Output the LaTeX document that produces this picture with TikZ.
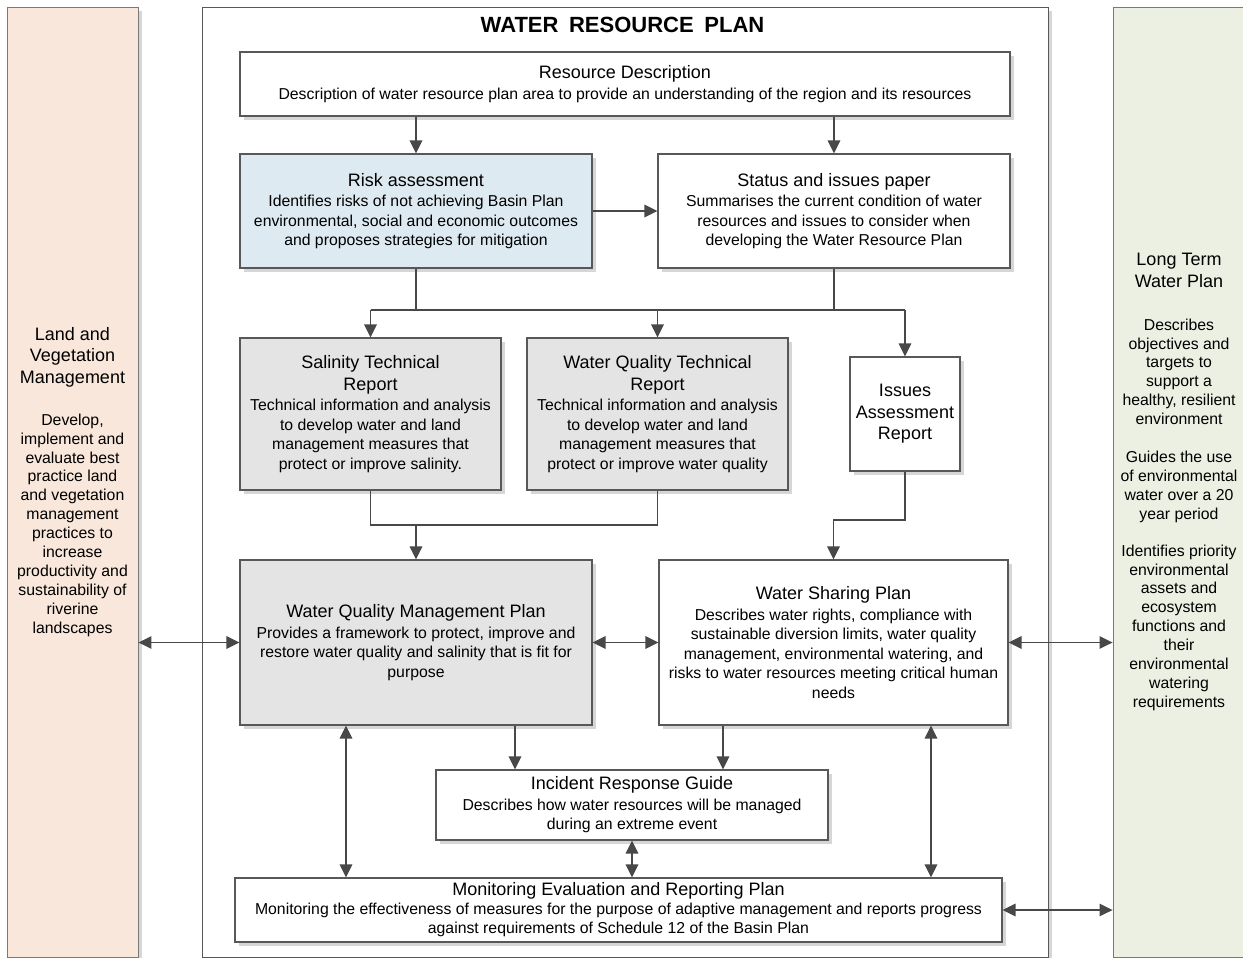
\documentclass[tikz,border=0pt]{standalone}
\usepackage{fontspec}
\setmainfont{Liberation Sans}
\usetikzlibrary{arrows.meta,shadows}
\definecolor{edge}{RGB}{88,88,88}
\definecolor{arrowc}{RGB}{72,72,72}
\definecolor{peach}{RGB}{248,231,218}
\definecolor{sage}{RGB}{236,240,227}
\definecolor{paleblue}{RGB}{222,234,241}
\definecolor{palegray}{RGB}{228,228,228}
\definecolor{shade}{RGB}{214,214,214}
\newcommand\hd{\fontsize{18}{21.5}\selectfont}
\begin{document}
\begin{tikzpicture}[x=1pt,y=-1pt,
  shade/.style={drop shadow={shadow xshift=4pt,shadow yshift=-4pt,fill=shade,opacity=1}},
  box/.style={draw=edge,line width=1.1pt,fill=white,align=center,inner sep=0pt,
    font=\fontsize{15.8}{19.5}\selectfont,shade},
  panel/.style={draw=edge!80,line width=0.9pt,align=center,inner sep=0pt,
    font=\fontsize{15.8}{18.9}\selectfont,shade},
  frame/.style={draw=edge,line width=0.9pt,fill=white,inner sep=0pt,shade},
  link/.style={draw=arrowc,line width=1.3pt},
  arr/.style={link,-{Triangle[length=13pt,width=12.5pt]}},
  darr/.style={link,{Triangle[length=13pt,width=12.5pt]}-{Triangle[length=13pt,width=12.5pt]}}]
\useasboundingbox (0,0) rectangle (1243,958);

% side panels
\node[panel,fill=peach,minimum width=131pt,minimum height=950pt] (land) at (72.5,482)
 {{\hd Land and}\\[2.5pt]{\hd Vegetation}\\[2.5pt]{\hd Management}\\[23pt]
  Develop,\\implement and\\evaluate best\\practice land\\and vegetation\\management\\
  practices to\\increase\\productivity and\\sustainability of\\riverine\\landscapes};
\node[panel,fill=sage,minimum width=132pt,minimum height=950pt] (ltwp) at (1179,482)
 {{\hd Long Term}\\[2.5pt]{\hd Water Plan}\\[24pt]
  Describes\\objectives and\\targets to\\support a\\healthy, resilient\\environment\\[19pt]
  Guides the use\\of environmental\\water over a 20\\year period\\[18pt]
  Identifies priority\\environmental\\assets and\\ecosystem\\functions and\\their\\
  environmental\\watering\\requirements};

% plan frame and heading
\node[frame,minimum width=846pt,minimum height=950pt] (wrp) at (625,482) {};
\node (title) at (622.5,25) {\fontsize{22}{26}\selectfont\bfseries WATER\hspace{10.6pt}RESOURCE\hspace{10.6pt}PLAN};

% boxes
\node[box,minimum width=770pt,minimum height=64pt] (res) at (625,84)
 {{\hd Resource Description}\\[1pt]
  Description of water resource plan area to provide an understanding of the region and its resources};
\node[box,fill=paleblue,minimum width=352pt,minimum height=114pt] (risk) at (416,211)
 {{\hd Risk assessment}\\[1pt]Identifies risks of not achieving Basin Plan\\
  environmental, social and economic outcomes\\and proposes strategies for mitigation};
\node[box,minimum width=352pt,minimum height=114pt] (status) at (834,211)
 {{\hd Status and issues paper}\\[1pt]Summarises the current condition of water\\
  resources and issues to consider when\\developing the Water Resource Plan};
\node[box,fill=palegray,minimum width=261pt,minimum height=152pt] (sal) at (370.5,414)
 {{\hd Salinity Technical}\\[2.5pt]{\hd Report}\\[0.5pt]Technical information and analysis\\
  to develop water and land\\management measures that\\protect or improve salinity.};
\node[box,fill=palegray,minimum width=261pt,minimum height=152pt] (wqt) at (657.5,414)
 {{\hd Water Quality Technical}\\[2.5pt]{\hd Report}\\[0.5pt]Technical information and analysis\\
  to develop water and land\\management measures that\\protect or improve water quality};
\node[box,minimum width=110pt,minimum height=114pt] (iss) at (905,414)
 {{\hd Issues}\\[2pt]{\hd Assessment}\\[2pt]{\hd Report}};
\node[box,fill=palegray,minimum width=352pt,minimum height=165pt] (wqmp) at (416,642.5)
 {{\hd Water Quality Management Plan}\\[1pt]Provides a framework to protect, improve and\\
  restore water quality and salinity that is fit for\\purpose};
\node[box,minimum width=349pt,minimum height=165pt] (wsp) at (833.5,642.5)
 {{\hd Water Sharing Plan}\\[1pt]Describes water rights, compliance with\\
  sustainable diversion limits, water quality\\management, environmental watering, and\\
  risks to water resources meeting critical human\\needs};
\node[box,minimum width=392pt,minimum height=70pt] (irg) at (632,805)
 {{\hd Incident Response Guide}\\[1pt]Describes how water resources will be managed\\
  during an extreme event};
\node[box,minimum width=767pt,minimum height=64pt] (merp) at (618.5,910)
 {{\hd Monitoring Evaluation and Reporting Plan}\\[-1pt]Monitoring the effectiveness of measures
  for the purpose of adaptive management and reports progress\\
  against requirements of Schedule 12 of the Basin Plan};

% junction levels
\coordinate (j1) at (0,310);
\coordinate (j2) at (0,525);
\coordinate (j3) at (0,520);

% connectors
\draw[arr] (risk.north |- res.south) -- (risk.north);
\draw[arr] (status.north |- res.south) -- (status.north);
\draw[arr] (risk.east) -- (status.west);

\draw[link] (risk.south) -- (risk.south |- j1);
\draw[link] (status.south) -- (status.south |- j1);
\draw[link] (sal.north |- j1) -- (iss.north |- j1);
\draw[arr] (sal.north |- j1) -- (sal.north);
\draw[arr] (wqt.north |- j1) -- (wqt.north);
\draw[arr] (iss.north |- j1) -- (iss.north);

\draw[link] (sal.south) -- (sal.south |- j2) -- (wqt.south |- j2) -- (wqt.south);
\draw[arr] (wqmp.north |- j2) -- (wqmp.north);
\draw[arr] (iss.south) -- (iss.south |- j3) -| (wsp.north);

\draw[darr] (wqmp.east) -- (wsp.west);
\draw[darr] (land.east |- wqmp.west) -- (wqmp.west);
\draw[darr] (wsp.east) -- (wsp.east -| ltwp.west);

\coordinate (qa) at ([xshift=99pt]wqmp.south);
\coordinate (qb) at ([xshift=-70pt]wqmp.south);
\coordinate (sa) at ([xshift=-110.5pt]wsp.south);
\coordinate (sb) at ([xshift=97.5pt]wsp.south);
\draw[arr] (qa) -- (qa |- irg.north);
\draw[arr] (sa) -- (sa |- irg.north);
\draw[darr] (irg.south) -- (irg.south |- merp.north);
\draw[darr] (qb) -- (qb |- merp.north);
\draw[darr] (sb) -- (sb |- merp.north);
\draw[darr] (merp.east) -- (merp.east -| ltwp.west);
\end{tikzpicture}
\end{document}
